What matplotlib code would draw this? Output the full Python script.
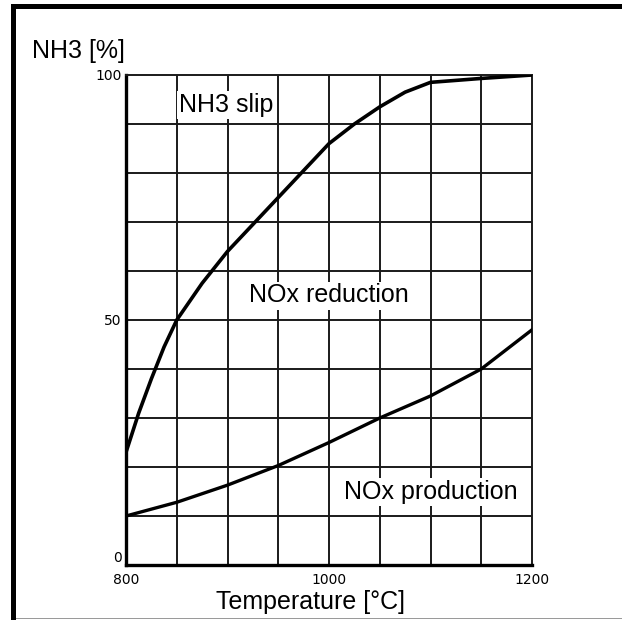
import matplotlib
matplotlib.use("Agg")
import matplotlib.pyplot as plt
from matplotlib.patches import Rectangle

# upper curve (NH3 slip / NOx reduction boundary)
upper_t = [800, 812.5, 825, 837.5, 850, 875, 900, 925, 950, 975, 1000, 1025, 1050, 1075, 1100, 1150, 1200]
upper_v = [23, 31, 38, 44.5, 50, 57.5, 64, 69.5, 75, 80.5, 86, 90, 93.5, 96.5, 98.5, 99.3, 100]

# lower curve (NOx reduction / NOx production boundary)
lower_t = [800, 850, 900, 950, 1000, 1050, 1100, 1150, 1200]
lower_v = [10, 12.8, 16.3, 20.3, 25, 30, 34.5, 40, 48]

x_ticks = [800, 1000, 1200]
y_ticks = [0, 50, 100]

W, H = 622, 620
fig = plt.figure(figsize=(W / 100, H / 100), dpi=100)
fig.patch.set_facecolor("white")

# frame around the figure
fig.patches.append(Rectangle((11 / W, 1 - 9 / H), 1 - 11 / W, 5 / H, transform=fig.transFigure,
                             facecolor="black", edgecolor="none"))
fig.patches.append(Rectangle((11 / W, 0), 5 / W, 1 - 4 / H, transform=fig.transFigure,
                             facecolor="black", edgecolor="none"))
fig.patches.append(Rectangle((16 / W, 1 / H), 1 - 16 / W, 1.5 / H, transform=fig.transFigure,
                             facecolor="#9a9a9a", edgecolor="none"))

ax = fig.add_axes([126 / W, 1 - 565 / H, 406 / W, 490 / H])
ax.set_xlim(800, 1200)
ax.set_ylim(0, 100)

# grid
for t in range(850, 1200, 50):
    ax.axvline(t, color="#1a1a1a", lw=1.4, zorder=1)
for v in range(10, 100, 10):
    ax.axhline(v, color="#1a1a1a", lw=1.4, zorder=1)

ax.plot(upper_t, upper_v, color="black", lw=2.6, zorder=3)
ax.plot(lower_t, lower_v, color="black", lw=2.4, zorder=3)

for s in ["top", "right"]:
    ax.spines[s].set_linewidth(1.4)
    ax.spines[s].set_color("#1a1a1a")
for s in ["left", "bottom"]:
    ax.spines[s].set_linewidth(2.4)
    ax.spines[s].set_color("black")

tick_font = ["Liberation Sans Narrow", "DejaVu Sans"]
ax.set_xticks(x_ticks)
ax.set_xticklabels([str(t) for t in x_ticks], family=tick_font, fontsize=10)
ax.set_yticks(y_ticks)
ax.set_yticklabels([str(v) for v in y_ticks], family=tick_font, fontsize=10)
ax.tick_params(axis="x", length=0, pad=6)
ax.tick_params(axis="y", length=0, pad=3)
# the "0" sits just above the corner, clear of "800"
ax.get_yticklabels()[0].set_va("bottom")

lab_font = ["Liberation Sans", "DejaVu Sans"]
box = dict(facecolor="white", edgecolor="none", pad=1.5)
ax.text(852, 93.8, "NH3 slip", family=lab_font, fontsize=18, va="center", ha="left",
        bbox=box, zorder=2)
ax.text(1000, 55.0, "NOx reduction", family=lab_font, fontsize=18, va="center", ha="center",
        bbox=box, zorder=2)
ax.text(1100, 15, "NOx production", family=lab_font, fontsize=18, va="center", ha="center",
        bbox=box, zorder=2)

fig.text(32 / W, 1 - 58 / H, "NH3 [%]", family=lab_font, fontsize=18, va="baseline", ha="left")
fig.text(311 / W, 1 - 609 / H, "Temperature [°C]", family=lab_font, fontsize=18,
         va="baseline", ha="center")

fig.savefig("out.png", dpi=100)
